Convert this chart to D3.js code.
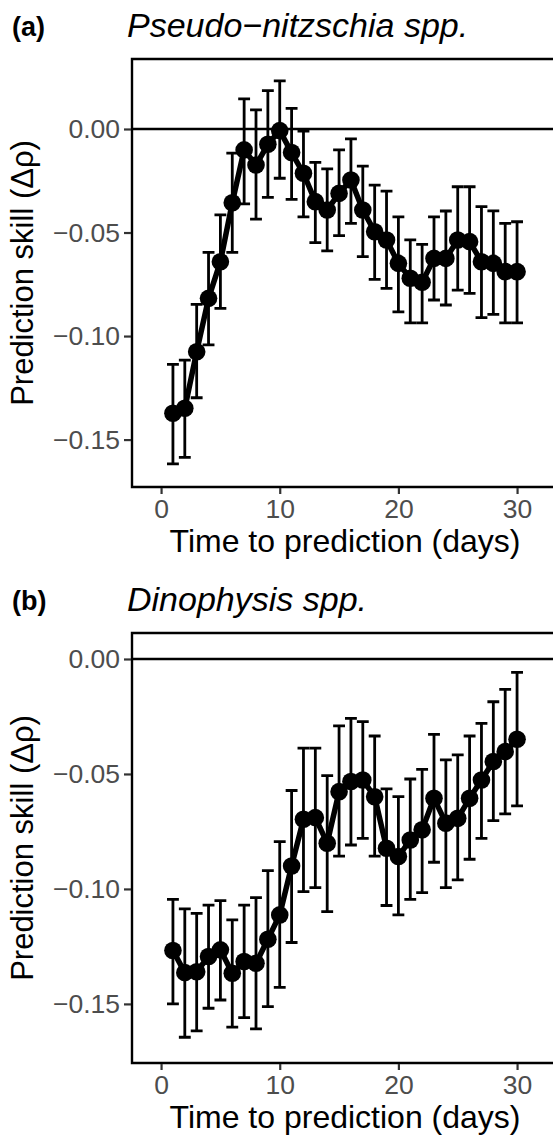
<!DOCTYPE html>
<html>
<head>
<meta charset="utf-8">
<script src="https://cdn.jsdelivr.net/npm/d3@7"></script>
<style>
  body { margin: 0; background: #fff; }
  svg { display: block; font-family: "Liberation Sans", Arial, sans-serif; }
</style>
</head>
<body>
<div id="chart"></div>
<script>
const days = [1, 2, 3, 4, 5, 6, 7, 8, 9, 10, 11, 12, 13, 14, 15,
    16, 17, 18, 19, 20, 21, 22, 23, 24, 25, 26, 27, 28, 29, 30];
const xTicks = [0, 10, 20, 30];
const yTicks = [0, -0.05, -0.10, -0.15];

// Pseudo-nitzschia spp.
const pnMean = [-0.1373, -0.1349, -0.1076, -0.0818, -0.0641, -0.0356, -0.0101, -0.0174, -0.0074, -0.0008,
    -0.0114, -0.0214, -0.0351, -0.0391, -0.0311, -0.0246, -0.0391, -0.0496, -0.0536, -0.0649,
    -0.0721, -0.0740, -0.0625, -0.0625, -0.0536, -0.0544, -0.0641, -0.0649, -0.0689, -0.0689];
const pnHigh = [-0.1137, -0.1116, -0.0847, -0.0596, -0.0415, -0.0117, 0.0145, 0.0092, 0.0185, 0.0232,
    0.0100, -0.0010, -0.0161, -0.0193, -0.0101, -0.0048, -0.0179, -0.0271, -0.0300, -0.0424,
    -0.0536, -0.0557, -0.0424, -0.0396, -0.0279, -0.0279, -0.0375, -0.0395, -0.0456, -0.0448];
const pnLow = [-0.1617, -0.1586, -0.1298, -0.1043, -0.0866, -0.0596, -0.0362, -0.0435, -0.0330, -0.0238,
    -0.0340, -0.0424, -0.0549, -0.0589, -0.0515, -0.0456, -0.0616, -0.0726, -0.0770, -0.0883,
    -0.0936, -0.0936, -0.0826, -0.0850, -0.0778, -0.0794, -0.0911, -0.0895, -0.0936, -0.0936];

// Dinophysis spp.
const dinoMean = [-0.1268, -0.1364, -0.1360, -0.1294, -0.1265, -0.1367, -0.1316, -0.1323, -0.1219, -0.1113,
    -0.0900, -0.0697, -0.0690, -0.0801, -0.0577, -0.0533, -0.0526, -0.0599, -0.0823, -0.0859,
    -0.0787, -0.0743, -0.0606, -0.0714, -0.0693, -0.0606, -0.0526, -0.0446, -0.0403, -0.0349];
const dinoHigh = [-0.1045, -0.1087, -0.1106, -0.1070, -0.1051, -0.1135, -0.1070, -0.1038, -0.0920, -0.0794,
    -0.0572, -0.0388, -0.0388, -0.0507, -0.0291, -0.0258, -0.0272, -0.0335, -0.0565, -0.0599,
    -0.0522, -0.0480, -0.0328, -0.0439, -0.0417, -0.0335, -0.0280, -0.0186, -0.0132, -0.0058];
const dinoLow = [-0.1500, -0.1645, -0.1617, -0.1519, -0.1483, -0.1601, -0.1560, -0.1609, -0.1512, -0.1428,
    -0.1233, -0.1012, -0.0994, -0.1099, -0.0857, -0.0809, -0.0780, -0.0857, -0.1072, -0.1113,
    -0.1045, -0.1016, -0.0884, -0.0994, -0.0961, -0.0871, -0.0780, -0.0703, -0.0674, -0.0639];

const width = 553;
const height = 1137;

const svg = d3
    .select('#chart')
    .append('svg')
    .attr('width', width)
    .attr('height', height);

function drawPanel(opts) {
    const { tag, title, mean, high, low, top, bottom, yDomain } = opts;
    const left = 132;
    const right = 558;

    const x = d3.scaleLinear().domain([-2.45, 33.45]).range([left, right]);
    const y = d3.scaleLinear().domain(yDomain).range([bottom, top]);

    const rows = days.map((d, i) => ({ day: d, mean: mean[i], high: high[i], low: low[i] }));
    const g = svg.append('g');

    // horizontal reference at zero
    g.append('line')
        .attr('x1', left).attr('x2', right)
        .attr('y1', y(0)).attr('y2', y(0))
        .attr('stroke', '#000').attr('stroke-width', 2.6);

    // error bars
    const bars = g.append('g')
        .attr('stroke', '#000')
        .attr('stroke-width', 2.8)
        .attr('fill', 'none');
    bars.selectAll('path')
        .data(rows)
        .join('path')
        .attr('d', (d) => {
            const x0 = x(d.day - 0.5), x1 = x(d.day + 0.5), xc = x(d.day);
            return `M${x0},${y(d.high)}H${x1}M${xc},${y(d.high)}V${y(d.low)}M${x0},${y(d.low)}H${x1}`;
        });

    // line
    g.append('path')
        .datum(rows)
        .attr('fill', 'none')
        .attr('stroke', '#000')
        .attr('stroke-width', 5.5)
        .attr('stroke-linejoin', 'round')
        .attr('d', d3.line().x((d) => x(d.day)).y((d) => y(d.mean)));

    // points
    g.append('g')
        .selectAll('circle')
        .data(rows)
        .join('circle')
        .attr('cx', (d) => x(d.day))
        .attr('cy', (d) => y(d.mean))
        .attr('r', 8.8)
        .attr('fill', '#000');

    // panel frame: top, left, bottom
    g.append('path')
        .attr('d', `M${right},${top}H${left}V${bottom}H${right}`)
        .attr('fill', 'none')
        .attr('stroke', '#000')
        .attr('stroke-width', 2.4);

    // y axis ticks
    const yAxis = g.append('g')
        .attr('transform', `translate(${left - 1}, 0)`)
        .call(d3.axisLeft(y).tickValues(yTicks).tickSize(7).tickPadding(4)
            .tickFormat((d) => d3.format('.2f')(d)));
    yAxis.select('.domain').remove();
    yAxis.selectAll('.tick line').attr('stroke', '#333').attr('stroke-width', 2.2);
    yAxis.selectAll('.tick text')
        .attr('fill', '#4d4d4d')
        .style('font-size', '26.5px')
        .style('font-family', '"Liberation Sans", Arial, sans-serif');

    // x axis ticks
    const xAxis = g.append('g')
        .attr('transform', `translate(0, ${bottom + 1})`)
        .call(d3.axisBottom(x).tickValues(xTicks).tickSize(6).tickPadding(5));
    xAxis.select('.domain').remove();
    xAxis.selectAll('.tick line').attr('stroke', '#333').attr('stroke-width', 2.2);
    xAxis.selectAll('.tick text')
        .attr('fill', '#4d4d4d')
        .style('font-size', '26.5px')
        .style('font-family', '"Liberation Sans", Arial, sans-serif');

    // axis titles
    g.append('text')
        .attr('x', 345)
        .attr('y', bottom + 65)
        .attr('text-anchor', 'middle')
        .style('font-size', '32px')
        .text('Time to prediction (days)');

    g.append('text')
        .attr('transform', `translate(33, ${(top + bottom) / 2}) rotate(-90)`)
        .attr('text-anchor', 'middle')
        .style('font-size', '31px')
        .text('Prediction skill (Δρ)');

    // tag and title
    g.append('text')
        .attr('x', 12)
        .attr('y', top - 23)
        .style('font-size', '27px')
        .style('font-weight', 'bold')
        .text(tag);

    g.append('text')
        .attr('x', 127)
        .attr('y', top - 22)
        .style('font-size', '34px')
        .style('font-style', 'italic')
        .text(title);
}

drawPanel({
    tag: '(a)',
    title: 'Pseudo\u2212nitzschia spp.',
    mean: pnMean, high: pnHigh, low: pnLow,
    top: 59, bottom: 487,
    yDomain: [-0.1729, 0.0338],
});

drawPanel({
    tag: '(b)',
    title: 'Dinophysis spp.',
    mean: dinoMean, high: dinoHigh, low: dinoLow,
    top: 633, bottom: 1063,
    yDomain: [-0.1757, 0.0113],
});
</script>
</body>
</html>
